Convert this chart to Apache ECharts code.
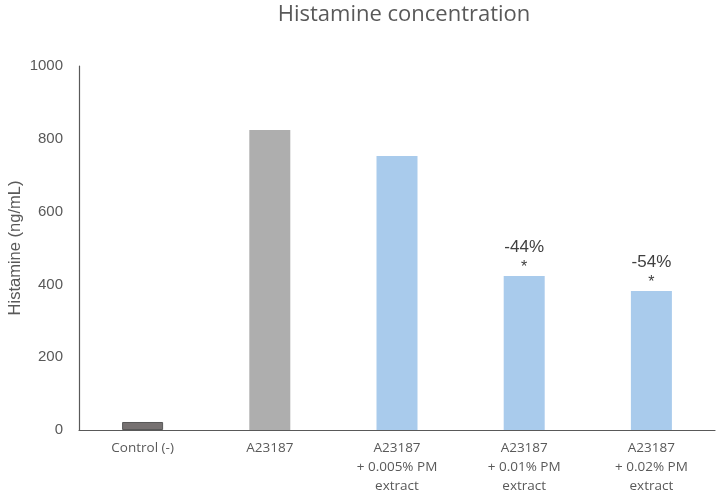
<!DOCTYPE html>
<html>
<head>
<meta charset="utf-8">
<script src="https://cdn.jsdelivr.net/npm/echarts@6/dist/echarts.min.js"></script>
<style>
    html, body { margin: 0; padding: 0; background: #fff; }
    #chart { width: 720px; height: 499px; }
</style>
</head>
<body>
<div id="chart"></div>
<script>
var categories = ['Control (-)', 'A23187', 'A23187\n+ 0.005% PM\nextract', 'A23187\n+ 0.01% PM\nextract', 'A23187\n+ 0.02% PM\nextract'];
var values = [22, 824, 753, 423, 382];
var changes = ['', '', '', '-44%', '-54%'];
var colors = ['#767171', '#AEAEAE', '#A9CBEC', '#A9CBEC', '#A9CBEC'];

var chart = echarts.init(document.getElementById('chart'));

var data = [];
for (var i = 0; i < values.length; i++) {
    data.push({
        value: values[i],
        itemStyle: {
            color: colors[i],
            borderColor: i == 0 ? '#595959' : colors[i],
            borderWidth: i == 0 ? 1 : 0
        },
        label: { show: changes[i] != '' }
    });
}

var option = {
    animation: false,
    title: {
        text: 'Histamine concentration',
        left: 399,
        textAlign: 'center',
        top: -1,
        textStyle: {
            fontFamily: 'Open Sans',
            fontWeight: 'normal',
            fontSize: 22,
            color: '#595959'
        }
    },
    grid: {
        left: 79,
        right: 5,
        top: 66,
        bottom: 69,
        outerBoundsMode: 'none'
    },
    xAxis: {
        type: 'category',
        data: categories,
        axisLine: { lineStyle: { color: '#595959', width: 1.2 } },
        axisTick: { show: false },
        axisLabel: {
            margin: 9,
            interval: 0,
            fontFamily: 'Open Sans',
            fontSize: 13.5,
            lineHeight: 19,
            color: '#595959'
        }
    },
    yAxis: {
        type: 'value',
        min: 0,
        max: 1000,
        interval: 200,
        name: 'Histamine (ng/mL)',
        nameLocation: 'middle',
        nameGap: 55,
        nameMoveOverlap: false,
        nameTextStyle: {
            fontFamily: 'Liberation Sans',
            fontSize: 16.5,
            color: '#595959'
        },
        axisLine: { show: true, lineStyle: { color: '#595959', width: 1.2 } },
        axisTick: { show: false },
        splitLine: { show: false },
        axisLabel: {
            margin: 16,
            fontFamily: 'Liberation Sans',
            fontSize: 15,
            color: '#595959',
            formatter: function(v) { return '' + v; }
        }
    },
    series: [{
        type: 'bar',
        barWidth: 41,
        data: data,
        label: {
            position: 'top',
            distance: 1,
            formatter: function(p) {
                return '{p|' + changes[p.dataIndex] + '}\n{s|*}';
            },
            rich: {
                p: { fontFamily: 'Liberation Sans', fontSize: 17, color: '#404040', lineHeight: 28 },
                s: { fontFamily: 'Liberation Sans', fontSize: 16, color: '#404040', lineHeight: 14 }
            }
        }
    }]
};

chart.setOption(option);
</script>
</body>
</html>
